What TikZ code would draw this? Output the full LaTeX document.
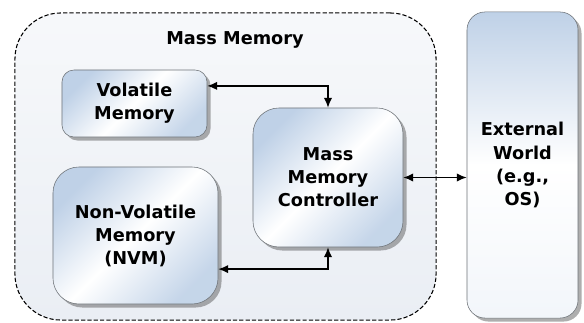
\documentclass[tikz,border=0pt]{standalone}
\usepackage{fontspec}
\setsansfont{DejaVu Sans}
\usetikzlibrary{positioning, arrows.meta, shadows}

\definecolor{memfill}{HTML}{EAEEF4}
\definecolor{boxblue}{HTML}{BFD1E7}
\definecolor{boxedge}{HTML}{6E7378}

\begin{document}
\begin{tikzpicture}[
    % Global Styles (coordinates are given in pixels of the original figure)
    x=0.025cm, y=-0.025cm,
    font=\sffamily\bfseries\fontsize{12.6}{16.4}\selectfont,
    >={Latex[length=7pt, width=6pt]},
    % Style for the dashed outer region
    region/.style={draw=black, dash pattern=on 3pt off 1.5pt, line width=0.75pt,
        rounded corners=1.15cm, inner sep=0pt,
        top color=white!60!memfill, bottom color=memfill},
    % Style for the shaded blocks
    block/.style={draw=boxedge, thin, inner sep=0pt, align=center,
        top color=boxblue, bottom color=boxblue!90, middle color=white, shading angle=45,
        drop shadow={shadow xshift=2.5pt, shadow yshift=-2.5pt, opacity=0.45, fill=black!70}},
    % Style for connectors
    link/.style={<->, line width=1pt, black}
]

%% --- OUTER REGION ---
\node[region, minimum width=10.525cm, minimum height=7.675cm] (mass) at (225.5,166.5) {};
\node (title) at (235,40) {Mass Memory};

%% --- BLOCKS ---
\node[block, rounded corners=0.3cm, minimum width=3.625cm, minimum height=1.675cm]
    (vol) at (134.5,103.5) {Volatile\\Memory};
\node[block, rounded corners=0.65cm, minimum width=3.75cm, minimum height=3.475cm]
    (ctrl) at (328,177.5) {Mass\\Memory\\Controller};
\node[block, rounded corners=0.65cm, minimum width=4.125cm, minimum height=3.425cm]
    (nvm) at (135.5,235.5) {Non-Volatile\\Memory\\(NVM)};
\node[block, rounded corners=0.45cm, minimum width=2.775cm, minimum height=7.65cm,
    top color=boxblue, bottom color=white!80!boxblue, middle color=white, shading angle=0]
    (ext) at (522.5,165) {External\\World\\(e.g.,\\OS)};

%% --- CONNECTIONS ---
\draw[link] ([yshift=0.44cm]vol.east) -| (ctrl.north);
\draw[link] ([yshift=-0.84cm]nvm.east) -| (ctrl.south);
\draw[link] (ctrl.east) -- (ctrl.east -| ext.west);

\useasboundingbox (0,0) rectangle (584,322);
\end{tikzpicture}
\end{document}
